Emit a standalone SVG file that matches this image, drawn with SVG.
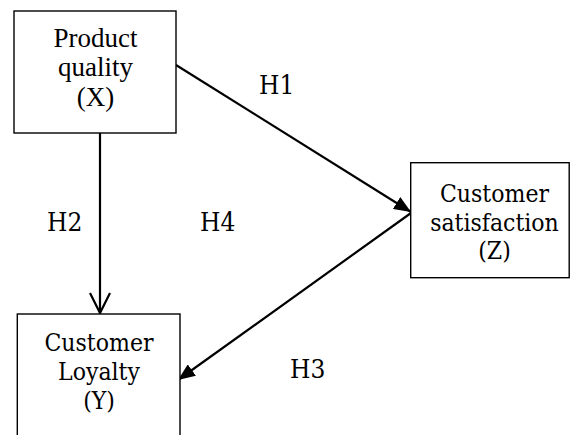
<svg xmlns="http://www.w3.org/2000/svg" width="570" height="435" viewBox="0 0 570 435">
<defs>
<style>
.box{fill:#fff;stroke:#000;stroke-width:1.4}
.t{font-family:"Liberation Serif","Times New Roman",serif;font-size:27px;fill:#000;text-anchor:middle}
.c{font-family:"DejaVu Serif",serif;font-stretch:condensed;font-size:24.5px;fill:#000;text-anchor:middle}
.h{font-family:"DejaVu Serif",serif;font-stretch:condensed;font-size:26px;fill:#000}
.ln{stroke:#000;stroke-width:2.2;fill:none}
</style>
<marker id="fill" markerWidth="18" markerHeight="14" refX="17" refY="7" orient="auto" markerUnits="userSpaceOnUse">
<path d="M0,0 L17,7 L0,14 Z" fill="#000"/>
</marker>
<marker id="open" markerWidth="24" markerHeight="24" refX="21" refY="11" orient="auto" markerUnits="userSpaceOnUse">
<path d="M1,1 L21,11 L1,21" fill="none" stroke="#000" stroke-width="2.2"/>
</marker>
</defs>
<g id="connectors">
<line class="ln" x1="100" y1="133" x2="100" y2="313" marker-end="url(#open)"/>
<line class="ln" x1="176" y1="65" x2="411" y2="212" marker-end="url(#fill)"/>
<line class="ln" x1="411" y1="213" x2="178" y2="380" marker-end="url(#fill)"/>
<text class="h" x="259" y="94">H1</text>
<text class="h" x="47" y="231">H2</text>
<text class="h" x="200" y="231">H4</text>
<text class="h" x="290" y="378">H3</text>
</g>
<g id="node-x">
<rect class="box" x="14" y="11" width="162" height="122"/>
<text class="t" x="95.5" y="47">Product</text>
<text class="t" x="95.5" y="76">quality</text>
<text class="t" x="95.5" y="106">(X)</text>
</g>
<g id="node-z">
<rect class="box" x="410.7" y="162.7" width="158.5" height="115"/>
<text class="c" x="494.5" y="201.5">Customer</text>
<text class="c" x="494.5" y="230.5">satisfaction</text>
<text class="c" x="494.5" y="259">(Z)</text>
</g>
<g id="node-y">
<rect class="box" x="17.3" y="314" width="162.7" height="140"/>
<text class="c" x="99" y="351">Customer</text>
<text class="c" x="99" y="380">Loyalty</text>
<text class="c" x="99" y="409">(Y)</text>
</g>
</svg>
